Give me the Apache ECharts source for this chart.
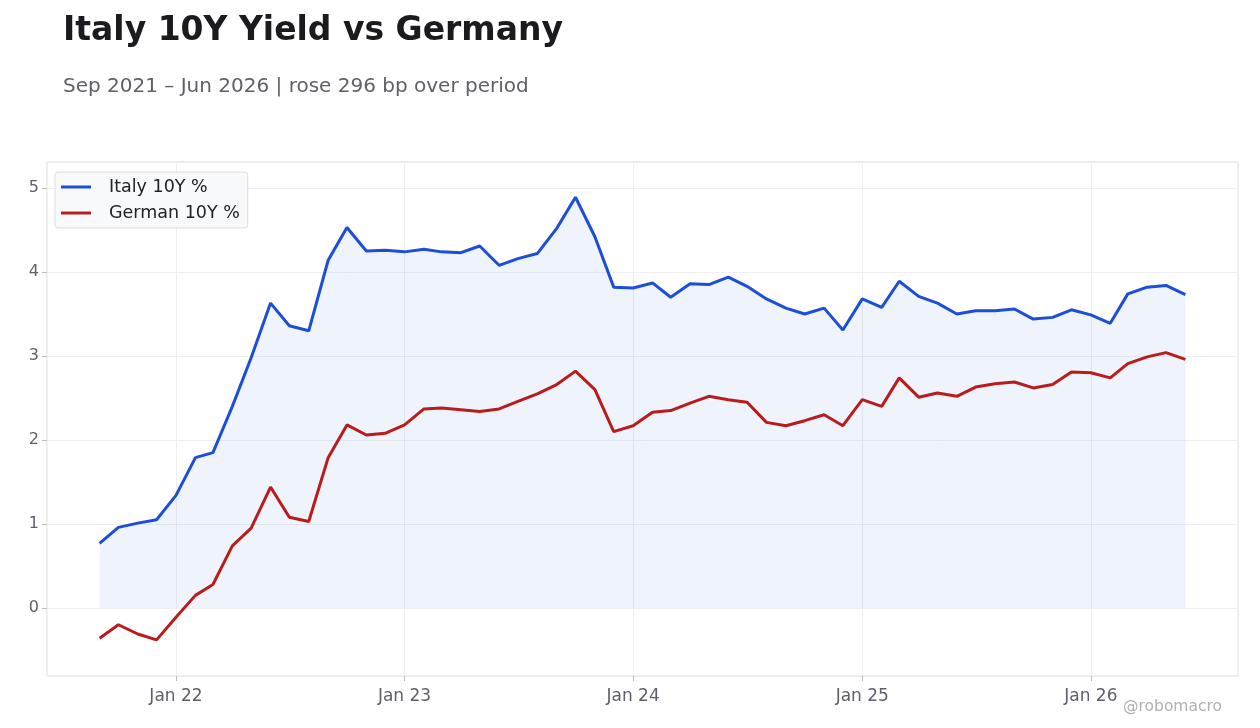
<!DOCTYPE html>
<html><head><meta charset="utf-8">
<script src="https://cdn.jsdelivr.net/npm/echarts@6/dist/echarts.min.js"></script>
<style>html,body{margin:0;padding:0;background:#fff}#c{width:1260px;height:728px}</style>
</head><body><div id="c"></div>
<script>
const months = [];
for (let y = 2021, m = 8; !(y === 2026 && m === 6); ) { months.push(y + '-' + String(m + 1).padStart(2, '0') + '-01'); m++; if (m === 12) { m = 0; y++; } }
const italy = [0.77,0.96,1.01,1.05,
 1.34,1.79,1.85,2.40,2.98,3.63,3.36,3.30,4.14,4.53,4.25,4.26,
 4.24,4.27,4.24,4.23,4.31,4.08,4.16,4.22,4.52,4.89,4.42,3.82,
 3.81,3.87,3.70,3.86,3.85,3.94,3.83,3.68,3.57,3.50,3.57,3.31,
 3.68,3.58,3.89,3.71,3.63,3.50,3.54,3.54,3.56,3.44,3.46,3.55,
 3.49,3.39,3.74,3.82,3.84,3.73];
const german = [-0.36,-0.20,-0.31,-0.38,
 -0.11,0.15,0.28,0.74,0.95,1.44,1.08,1.03,1.79,2.18,2.06,2.08,
 2.18,2.37,2.38,2.36,2.34,2.37,2.46,2.55,2.66,2.82,2.60,2.10,
 2.17,2.33,2.35,2.44,2.52,2.48,2.45,2.21,2.17,2.23,2.30,2.17,
 2.48,2.40,2.74,2.51,2.56,2.52,2.63,2.67,2.69,2.62,2.66,2.81,
 2.80,2.74,2.91,2.99,3.04,2.96];
const yTicks = [0, 1, 2, 3, 4, 5];
const mon = ['Jan','Feb','Mar','Apr','May','Jun','Jul','Aug','Sep','Oct','Nov','Dec'];
const chart = echarts.init(document.getElementById('c'));
chart.setOption({
  animation: false,
  title: [
    {text: 'Italy 10Y Yield vs Germany', left: 58, top: 10, textStyle: {fontFamily: 'DejaVu Sans', fontSize: 33, fontWeight: 'bold', color: '#1a1a1f'}},
    {text: 'Sep 2021 – Jun 2026 | rose 296 bp over period', left: 58, top: 72, textStyle: {fontFamily: 'DejaVu Sans', fontSize: 20, fontWeight: 'normal', color: '#5f6069'}},
    {text: '@robomacro', right: 33, top: 694, textStyle: {fontFamily: 'DejaVu Sans', fontSize: 15.5, fontWeight: 'normal', color: '#b0b0b5'}}
  ],
  legend: {
    orient: 'vertical', left: 55, top: 172, padding: [6, 8, 6, 6], itemGap: 8,
    backgroundColor: '#f8f9fb', borderColor: '#dddddd', borderWidth: 1, borderRadius: 3,
    icon: 'path://M0,0 L40,0 L40,4 L0,4 Z', itemWidth: 38, itemHeight: 3,
    textStyle: {fontFamily: 'DejaVu Sans', fontSize: 17.5, color: '#222', padding: [0, 0, 0, 9]},
    data: ['Italy 10Y %', 'German 10Y %']
  },
  grid: {left: 47, right: 22, top: 162, bottom: 52, show: true, borderColor: '#dcdcdc', borderWidth: 1},
  xAxis: {
    type: 'time', min: '2021-06-09', max: '2026-08-24',
    axisLine: {show: false, onZero: false}, axisTick: {show: true, lineStyle: {color: '#bbb'}},
    splitLine: {show: true, lineStyle: {color: '#efeff2'}},
    axisLabel: {fontFamily: 'DejaVu Sans', fontSize: 17, color: '#5f6069', margin: 12,
      formatter: v => { const d = new Date(v); return mon[d.getMonth()] + ' ' + String(d.getFullYear() % 100).padStart(2, '0'); }}
  },
  yAxis: {
    type: 'value', min: -0.81, max: 5.31,
    axisLine: {show: false}, axisTick: {show: true, customValues: yTicks, lineStyle: {color: '#bbb'}},
    splitLine: {lineStyle: {color: '#efeff2'}},
    axisLabel: {fontFamily: 'DejaVu Sans', fontSize: 16, color: '#5f6069', customValues: yTicks}
  },
  series: [
    {name: 'Italy 10Y %', type: 'line', showSymbol: false, data: months.map((m, i) => [m, italy[i]]),
     lineStyle: {color: '#1d4ed8', width: 3}, itemStyle: {color: '#1d4ed8'},
     areaStyle: {color: 'rgba(29,78,216,0.1)', origin: 0}},
    {name: 'German 10Y %', type: 'line', showSymbol: false, data: months.map((m, i) => [m, german[i]]),
     lineStyle: {color: '#b91c1c', width: 3}, itemStyle: {color: '#b91c1c'}}
  ]
});
</script></body></html>
